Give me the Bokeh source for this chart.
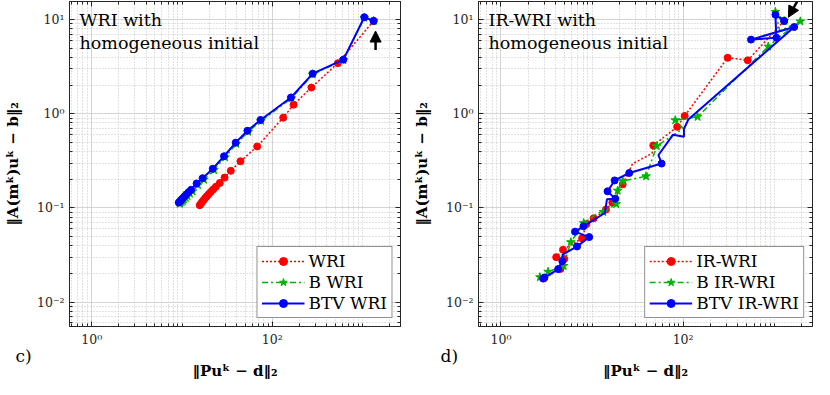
from bokeh.plotting import figure
from bokeh.models import (FixedTicker, LogAxis, CustomJSTickFormatter, Legend,
                          LegendItem, Label, Arrow, NormalHead, Title)
from bokeh.layouts import row
from bokeh.embed import file_html
from bokeh.resources import INLINE

# ---------------- data ----------------
# panel c) : WRI with homogeneous initial
c_wri_x = [1325, 532, 271, 172, 132, 68, 44.4, 34.7, 29.6, 26.2, 23.7, 22.1, 20.8,
           19.7, 18.8, 18.0, 17.3, 16.7, 16.2, 15.7]
c_wri_y = [9.7, 3.45, 1.9, 1.25, 0.91, 0.45, 0.313, 0.248, 0.21, 0.184, 0.168, 0.157,
           0.148, 0.14, 0.133, 0.127, 0.121, 0.116, 0.111, 0.107]
c_bwri_x = [1325, 1045, 612, 280, 163, 75, 54, 40, 30, 22.6, 17.5, 15.0, 13.1, 12.2,
            11.5, 11.0, 10.5, 10.2, 9.9, 9.6, 9.4]
c_bwri_y = [9.7, 10.5, 3.72, 2.62, 1.46, 0.84, 0.645, 0.48, 0.345, 0.253, 0.2, 0.175,
            0.15, 0.142, 0.134, 0.128, 0.123, 0.119, 0.116, 0.113, 0.111]
c_btv_x = [1325, 1045, 612, 280, 161, 74, 53, 39.3, 29.2, 21.9, 16.9, 14.5, 12.6, 11.8,
           11.1, 10.6, 10.2, 9.9, 9.6, 9.4, 9.2]
c_btv_y = [9.7, 10.6, 3.76, 2.67, 1.49, 0.86, 0.66, 0.494, 0.354, 0.261, 0.207, 0.182,
           0.156, 0.147, 0.139, 0.132, 0.127, 0.123, 0.119, 0.116, 0.114]

# panel d) : IR-WRI with homogeneous initial
d_wri_x = [1285, 512, 308, 104, 86, 47, 45.5, 27.8, 21.7, 16.7, 14.2, 10.4, 8.67, 7.78,
           4.8, 4.04, 4.96, 4.5, 3.3, 2.95]
d_wri_y = [9.7, 3.7, 3.94, 0.95, 0.727, 0.461, 0.38, 0.294, 0.178, 0.114, 0.096, 0.0775,
           0.0673, 0.0475, 0.036, 0.030, 0.0287, 0.0225, 0.019, 0.0178]
d_wri_marked = [0, 1, 2, 3, 4, 5, 8, 9, 10, 11, 12, 13, 14, 15, 16, 17, 19]
d_bwri_x = [1285, 1030, 1150, 1935, 1150, 859, 144, 82, 100, 51.4, 39.2, 21.7, 19.1,
            18.4, 13.3, 11.5, 8.1, 5.85, 4.87, 3.29, 2.68]
d_bwri_y = [9.7, 12.1, 7.6, 9.6, 6.6, 5.18, 0.93, 0.855, 0.7, 0.454, 0.217, 0.193, 0.153,
            0.11, 0.0905, 0.088, 0.069, 0.0433, 0.0242, 0.021, 0.0184]
d_bwri_marked = [0, 1, 3, 5, 6, 7, 9, 10, 11, 12, 13, 14, 16, 17, 18, 19, 20]
d_btv_x = [1285, 1030, 1055, 556, 1656, 114, 102, 102, 77.6, 53.6, 58, 25.6, 17.7, 14.8,
           18, 14.6, 13.8, 8.05, 6.5, 9.3, 6.85, 4.75, 4.72, 4.25, 3.0, 2.9]
d_btv_y = [9.7, 11.3, 6.43, 6.14, 8.36, 0.87, 0.69, 0.57, 0.6, 0.365, 0.296, 0.235, 0.196,
           0.15, 0.125, 0.124, 0.0884, 0.0638, 0.056, 0.049, 0.039, 0.032, 0.0272, 0.0224,
           0.0182, 0.0178]
d_btv_marked = [0, 1, 2, 3, 4, 10, 11, 12, 13, 14, 17, 18, 19, 20, 22, 23, 24, 25]

# arrows marking the starting model (tail -> head)
c_arrow_x = [1393, 1393]
c_arrow_y = [4.75, 7.57]
d_arrow_x = [1828, 1429]
d_arrow_y = [16.3, 10.6]

x_major = [1, 100]
y_major = [0.01, 0.1, 1, 10]
X_RANGE = (0.567, 2630)
Y_RANGE = (0.0055, 15.6)

X_LABEL = "\u2016Pu\u1d4f \u2212 d\u2016\u2082"
Y_LABEL = "\u2016A(m\u1d4f)u\u1d4f \u2212 b\u2016\u2082"

# ---------------- styling ----------------
AX = "#262626"
SERIF = "DejaVu Serif"
RED, GREEN, BLUE = "#ff0000", "#00b400", "#0000ff"
FIG_H = 379
B_TOP, B_BOTTOM = 1, 40

x_minor = [m * 10.0 ** e for e in range(-1, 4) for m in range(1, 10)
           if m * 10.0 ** e not in x_major]
y_minor = [m * 10.0 ** e for e in range(-3, 2) for m in range(1, 10)
           if round(m * 10.0 ** e, 6) not in y_major]

sup_code = """
const e = Math.round(Math.log10(tick));
const s = {'-':'\u207b','0':'\u2070','1':'\u00b9','2':'\u00b2','3':'\u00b3','4':'\u2074',
           '5':'\u2075','6':'\u2076','7':'\u2077','8':'\u2078','9':'\u2079'};
return '10' + String(e).split('').map(c => s[c]).join('');
"""


def style_axis(ax, labels=True):
    ax.major_tick_in = 5
    ax.major_tick_out = 0
    ax.minor_tick_in = 3
    ax.minor_tick_out = 0
    ax.axis_line_color = AX
    ax.major_tick_line_color = AX
    ax.minor_tick_line_color = AX
    if labels:
        ax.major_label_text_font = "DejaVu Serif"
        ax.major_label_text_font_size = "12.5px"
        ax.major_label_text_color = AX
        ax.formatter = CustomJSTickFormatter(code=sup_code)
    else:
        ax.major_label_text_font_size = "0px"
        ax.major_label_standoff = 0
        ax.formatter = CustomJSTickFormatter(code="return '';")


def make_panel(width, border_left, border_right, series, title_lines, arrow, tag, tag_x):
    p = figure(width=width, height=FIG_H, x_axis_type="log", y_axis_type="log",
               x_range=X_RANGE, y_range=Y_RANGE, output_backend="svg",
               toolbar_location=None, min_border_left=border_left,
               min_border_right=border_right, min_border_top=B_TOP,
               min_border_bottom=B_BOTTOM)
    p.outline_line_color = AX
    p.background_fill_color = "white"
    p.border_fill_color = "white"

    xax = p.below[0]
    yax = p.left[0]
    xt = FixedTicker(ticks=x_major, minor_ticks=x_minor)
    yt = FixedTicker(ticks=y_major, minor_ticks=y_minor)
    xax.ticker = xt
    yax.ticker = yt
    p.xgrid[0].ticker = xt
    p.ygrid[0].ticker = yt
    style_axis(xax)
    style_axis(yax)
    xax.major_label_standoff = 5

    for g in (p.xgrid[0], p.ygrid[0]):
        g.grid_line_color = "#d4d4d4"
        g.grid_line_width = 1
        g.minor_grid_line_color = "#c4c4c4"
        g.minor_grid_line_dash = "1 2"

    yax.axis_label = Y_LABEL
    yax.axis_label_text_font = SERIF
    yax.axis_label_text_font_style = "bold"
    yax.axis_label_text_font_size = "15px"
    yax.axis_label_text_color = "black"
    yax.axis_label_standoff = 12

    top = LogAxis(ticker=xt)
    right = LogAxis(ticker=yt)
    style_axis(top, labels=False)
    style_axis(right, labels=False)
    p.add_layout(top, "above")
    p.add_layout(right, "right")

    # panel tag (left) and x-axis label (centred) as rows below the axis
    p.add_layout(Title(text=tag, align="left", offset=tag_x, standoff=-12,
                       text_font=SERIF, text_font_size="17px",
                       text_font_style="normal", text_color="black"), "below")
    p.add_layout(Title(text=X_LABEL, align="center", standoff=0,
                       text_font=SERIF, text_font_size="15px",
                       text_font_style="bold", text_color="black"), "below")

    items = []
    for (label, xs, ys, marked, color, dash, lw, marker, msize) in series:
        lr = p.line(xs, ys, line_color=color, line_width=lw, line_dash=dash)
        mx = [xs[i] for i in marked]
        my = [ys[i] for i in marked]
        sr = p.scatter(mx, my, marker=marker, size=msize, fill_color=color,
                       line_color=color)
        items.append(LegendItem(label=label, renderers=[lr, sr]))

    leg = Legend(items=items, location="bottom_right", margin=8, padding=4,
                 spacing=1, glyph_width=43, glyph_height=20, label_height=20,
                 label_standoff=4, label_text_font=SERIF, label_text_font_size="17px",
                 label_text_color="black", border_line_color=AX, border_line_width=1,
                 background_fill_color="white", background_fill_alpha=1)
    p.add_layout(leg)

    p.add_layout(Arrow(end=NormalHead(size=11, fill_color="black", line_color="black"),
                       x_start=arrow[0][0], y_start=arrow[1][0],
                       x_end=arrow[0][1], y_end=arrow[1][1],
                       line_color="black", line_width=2.5))

    for i, t in enumerate(title_lines):
        p.add_layout(Label(x=10, y=Y_RANGE[1], y_offset=-8 - 23 * i, x_units="screen",
                           text=t, text_font=SERIF, text_font_size="17.5px",
                           text_color="black", text_baseline="top"))
    return p


series_c = [
    ("WRI", c_wri_x, c_wri_y, list(range(len(c_wri_x))), RED, "2 2", 1.5, "circle", 7),
    ("B WRI", c_bwri_x, c_bwri_y, list(range(len(c_bwri_x))), GREEN, "6 3 2 3", 1.5, "star", 9),
    ("BTV WRI", c_btv_x, c_btv_y, list(range(len(c_btv_x))), BLUE, "solid", 2, "circle", 7),
]
series_d = [
    ("IR-WRI", d_wri_x, d_wri_y, d_wri_marked, RED, "2 2", 1.5, "circle", 7),
    ("B IR-WRI", d_bwri_x, d_bwri_y, d_bwri_marked, GREEN, "6 3 2 3", 1.5, "star", 9),
    ("BTV IR-WRI", d_btv_x, d_btv_y, d_btv_marked, BLUE, "solid", 2, "circle", 7),
]

p1 = make_panel(408, 59, 8, series_c, ["WRI with", "homogeneous initial"],
                (c_arrow_x, c_arrow_y), "c)", -54)
p2 = make_panel(406, 70, 2, series_d, ["IR-WRI with", "homogeneous initial"],
                (d_arrow_x, d_arrow_y), "d)", -38)

layout = row(p1, p2)
open("out.html", "w").write(file_html(layout, INLINE))
